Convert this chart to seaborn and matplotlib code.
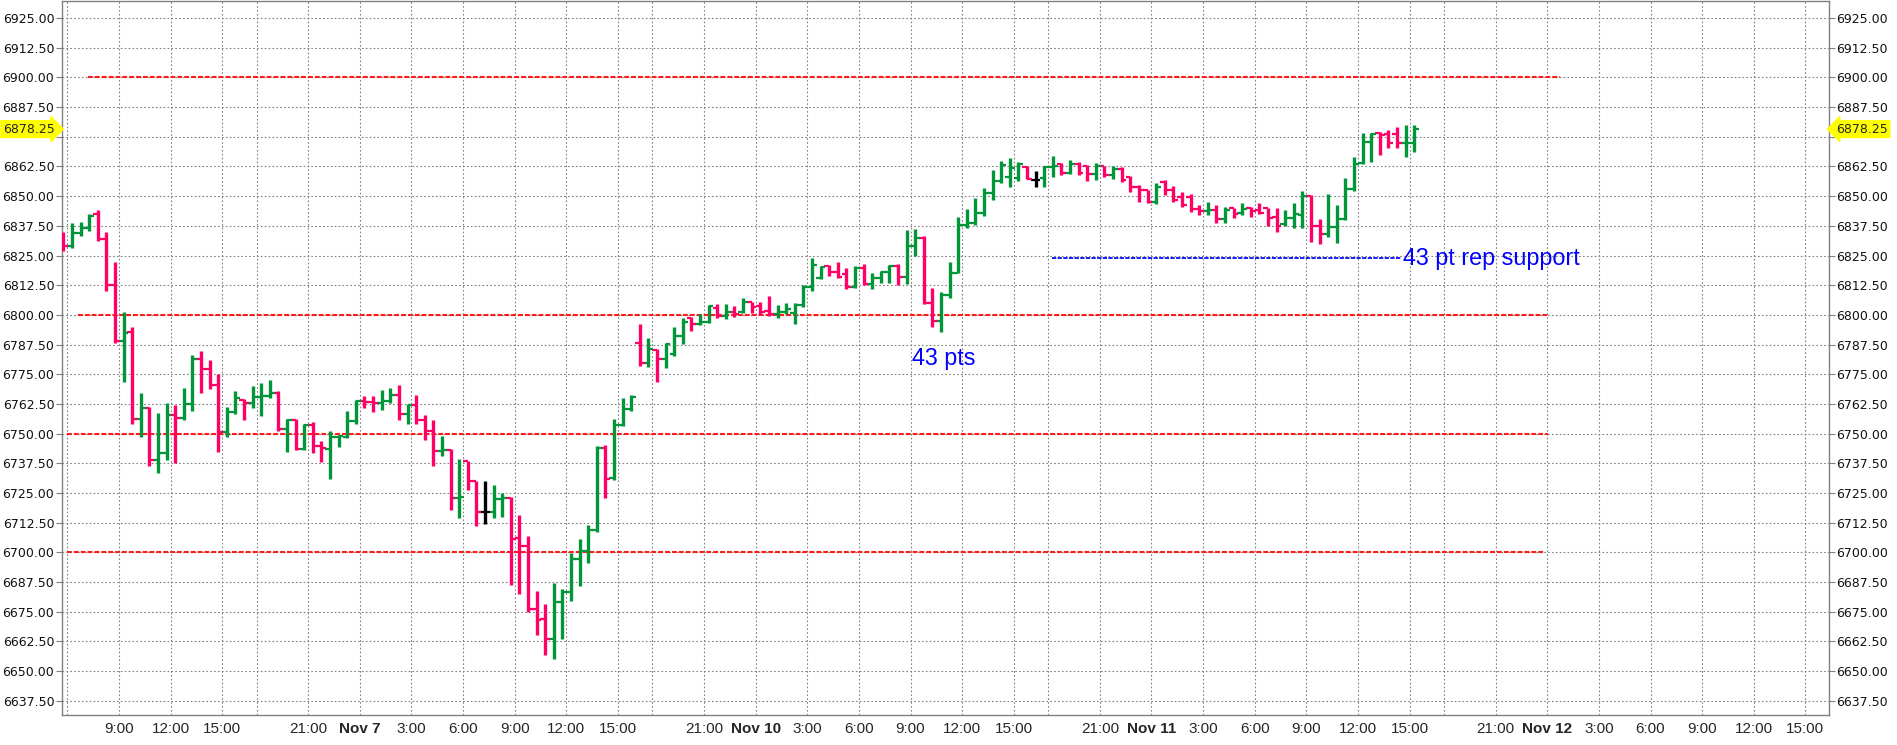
import numpy as np
import pandas as pd
import matplotlib
matplotlib.use("Agg")
import matplotlib.pyplot as plt
import seaborn as sns

# 30-minute ES bars (index = bar number)
opens = [6834, 6829, 6834.3, 6836.6, 6842.3, 6832, 6812.5, 6789, 6792.8, 6756,
         6761, 6739, 6742, 6758, 6756.6, 6762.4, 6781.3, 6777.4, 6770.4, 6750.7,
         6759.1, 6764, 6763, 6765.6, 6766, 6767, 6751.8, 6755.6, 6743.4, 6753.7,
         6744.7, 6743.7, 6748.7, 6748.7, 6755.2, 6763.6, 6763.3, 6763, 6763.9, 6766.4,
         6758.3, 6761.9, 6755.6, 6751.3, 6742.6, 6743.1, 6722.9, 6738.3, 6729.9, 6717,
         6717, 6722.5, 6722.9, 6706, 6702.8, 6676.2, 6671.8, 6663.4, 6679.3, 6683.3,
         6697.1, 6700.6, 6709.4, 6744.1, 6731.2, 6753.7, 6760.3, 6788.1, 6779.9, 6785.3,
         6781.3, 6783.4, 6791.2, 6798.5, 6796.3, 6797, 6803.1, 6799.6, 6801.4, 6801.4,
         6805.5, 6803.8, 6801.7, 6800.3, 6801.3, 6801, 6804.2, 6811.9, 6815.4, 6820.4,
         6818, 6817.1, 6811.9, 6819.7, 6813.1, 6815.4, 6818, 6820.4, 6815.9, 6829.1,
         6832.3, 6805.2, 6797.5, 6808.4, 6817.8, 6837.9, 6838.9, 6842.8, 6851.5, 6856.6,
         6858, 6857.5, 6862.2, 6857, 6857.6, 6862.2, 6863.6, 6859.8, 6863.6, 6862.5,
         6859.4, 6862.5, 6858.8, 6861.5, 6858, 6853.8, 6852.4, 6847.5, 6856, 6852.4,
         6849.7, 6849.6, 6844.6, 6843.7, 6844, 6840.3, 6845, 6843.1, 6845, 6844.1,
         6845, 6841.3, 6838.2, 6840.7, 6842.1, 6850.1, 6837.5, 6834, 6837, 6840.6,
         6852.9, 6864, 6872.9, 6876.4, 6876, 6876, 6872.2, 6872.6]
highs = [6835, 6838.5, 6839, 6842.4, 6844.1, 6834.8, 6822.2, 6801.4, 6794.8, 6767.3,
         6761.4, 6758.6, 6763, 6762, 6769.4, 6783, 6785, 6781.2, 6775, 6761.4,
         6768, 6764.5, 6770, 6771.2, 6772.5, 6768, 6756.3, 6756.3, 6754.2, 6755,
         6746.8, 6751.3, 6749.6, 6759.4, 6764.3, 6765.7, 6765.7, 6768.5, 6769.2, 6770.4,
         6762.6, 6766.1, 6758, 6755.6, 6748.9, 6743.7, 6739.5, 6738.6, 6730.2, 6730.2,
         6728.5, 6725.1, 6723.2, 6715.9, 6706.8, 6683.6, 6678.1, 6687, 6684.7, 6699.9,
         6705.5, 6711.4, 6744.8, 6745.1, 6756.1, 6764.9, 6766.2, 6796.1, 6790.2, 6785.8,
         6788.1, 6794.7, 6798.5, 6799.2, 6800.3, 6804.1, 6804.5, 6804.5, 6803.7, 6807,
         6805.6, 6805.6, 6808, 6804.1, 6804.9, 6804.9, 6812.4, 6823.9, 6820.6, 6821,
         6822.2, 6819.9, 6820.4, 6821.5, 6817.5, 6818.5, 6821, 6821.3, 6835.8, 6836.2,
         6833.3, 6811.5, 6809.7, 6822.2, 6841.1, 6844.5, 6849.1, 6853.6, 6861.1, 6865,
         6866, 6864.2, 6862.9, 6860.8, 6862.9, 6867.1, 6864, 6865.4, 6864.6, 6863.2,
         6864, 6862.6, 6862.9, 6862.2, 6858.7, 6854.5, 6852.8, 6855.5, 6856.9, 6854.1,
         6851.7, 6851, 6846.1, 6847.5, 6846.1, 6845.4, 6845.2, 6847, 6845.5, 6847,
         6845.2, 6845.2, 6844.1, 6847.3, 6852.3, 6850.4, 6840.3, 6850.9, 6846.2, 6857.6,
         6866.3, 6876.5, 6876.5, 6877.1, 6878, 6879.2, 6880, 6880]
lows = [6827, 6828, 6833.3, 6835.4, 6831.2, 6810, 6788, 6771.8, 6754, 6748.6,
        6736.4, 6733.3, 6739, 6737.8, 6755.8, 6759.6, 6767.3, 6769, 6742.3, 6748.6,
        6758.2, 6755.8, 6760.7, 6757.5, 6764.9, 6750.9, 6742.3, 6743, 6743, 6742,
        6738, 6730.9, 6744.2, 6748.2, 6754.1, 6760.8, 6759, 6759.8, 6762.9, 6755.6,
        6754.1, 6754.1, 6747.2, 6736.2, 6740.6, 6717.8, 6714.5, 6726.4, 6711.1, 6712,
        6714.5, 6714.9, 6686.4, 6682.5, 6674.9, 6665.3, 6656.8, 6655, 6663.4, 6679.5,
        6685.9, 6695.7, 6708.7, 6722.8, 6730.5, 6753.2, 6759.6, 6778.5, 6778.1, 6771.8,
        6777.7, 6782.7, 6787.6, 6793.3, 6795.8, 6796.5, 6798.6, 6798.2, 6799.2, 6801,
        6800.6, 6800, 6799.6, 6798.5, 6800.3, 6796.1, 6803.5, 6810.2, 6815, 6816.4,
        6815.4, 6810.8, 6811.2, 6812.4, 6810.8, 6813.6, 6813.6, 6812.4, 6813.1, 6824.6,
        6804.4, 6794.7, 6792.6, 6807, 6817.5, 6836.5, 6837.9, 6841.8, 6848.4, 6855.5,
        6853.8, 6856.5, 6857.2, 6853.8, 6853.8, 6858, 6859, 6859.4, 6859, 6856.6,
        6856.9, 6858, 6857.3, 6855.9, 6851.7, 6847.5, 6847.1, 6846.8, 6850.3, 6847.5,
        6845.4, 6843.3, 6841.9, 6841.9, 6838.6, 6838.5, 6840.7, 6842, 6841.3, 6842.4,
        6837.5, 6835.1, 6837.5, 6836.8, 6836.8, 6830.9, 6829.8, 6833, 6830.2, 6839.9,
        6852.3, 6863.5, 6864.6, 6867.4, 6870.2, 6870.5, 6866.3, 6868.8]
closes = [6829, 6834.3, 6836.6, 6841.7, 6832, 6812.5, 6789, 6792.4, 6756.3, 6761,
          6739, 6742, 6758, 6756.6, 6762.4, 6781.3, 6777.4, 6770.4, 6750.7, 6759.1,
          6764.8, 6763, 6765.6, 6766, 6767, 6751.8, 6755.6, 6743.4, 6753.7, 6744.7,
          6744, 6748.7, 6749, 6755.2, 6763.6, 6763.3, 6762.9, 6763.9, 6766.4, 6758.3,
          6761.9, 6755.6, 6751.3, 6742.6, 6743.1, 6722.9, 6723.2, 6729.9, 6717, 6717,
          6722.5, 6722.9, 6705.6, 6702.5, 6676.2, 6671.7, 6663.4, 6679.3, 6683.4, 6697.1,
          6700.6, 6709.4, 6744.1, 6730.8, 6753.7, 6760.3, 6765.5, 6779.9, 6785.5, 6781.3,
          6787.6, 6791.2, 6797.2, 6796.3, 6797, 6803.7, 6799.6, 6801.3, 6800.3, 6805.5,
          6803.5, 6801.3, 6800.3, 6801.3, 6802.4, 6804.2, 6811.9, 6821.1, 6820.1, 6818,
          6816, 6811.7, 6819.7, 6813.1, 6815.4, 6818, 6820.4, 6815.9, 6829.1, 6832.3,
          6805.2, 6797.5, 6808.4, 6817.8, 6837.9, 6838.9, 6842.8, 6851.5, 6856.6, 6863,
          6862, 6863.5, 6857.3, 6857, 6862.2, 6862.5, 6859.8, 6863.6, 6859.8, 6859.4,
          6862.5, 6858.8, 6861.5, 6856.9, 6853.8, 6852.4, 6847.5, 6853.8, 6852.4, 6848.2,
          6846.1, 6844.6, 6843.7, 6844, 6840.5, 6844.3, 6842.4, 6844.8, 6843.8, 6843.1,
          6841, 6837.5, 6841, 6842.4, 6850.1, 6837.5, 6834, 6837, 6840.6, 6852.9,
          6863.6, 6872.9, 6876.1, 6875.7, 6872.5, 6872.2, 6872.6, 6878.25]

# time axis (30-min slots of trading time, counted from Nov 6 6:00)
tick_slots = [0, 6, 12, 18, 22, 28, 34, 40, 46, 52, 58, 64, 68, 74, 80, 86, 92, 98,
              104, 110, 114, 120, 126, 132, 138, 144, 150, 156, 160, 166, 172, 178,
              184, 190, 196, 202]
tick_labels = ["", "9:00", "12:00", "15:00", "", "21:00", "Nov 7", "3:00", "6:00",
               "9:00", "12:00", "15:00", "", "21:00", "Nov 10", "3:00", "6:00", "9:00",
               "12:00", "15:00", "", "21:00", "Nov 11", "3:00", "6:00", "9:00", "12:00",
               "15:00", "", "21:00", "Nov 12", "3:00", "6:00", "9:00", "12:00", "15:00"]

# horizontal levels
red_levels = [6900, 6800, 6750, 6700]
red_start = [2.9, 1.7, 0.4, 0.4]
red_end = [173.9, 172.5, 172.6, 172.2]
support_level = 6824
support_start, support_end = 114.9, 155.5
last_price = 6878.25

df = pd.DataFrame({"open": opens, "high": highs, "low": lows, "close": closes})
df["bar"] = np.arange(len(df))
df["color"] = np.where(df["close"] > df["open"], "#009639",
                       np.where(df["close"] < df["open"], "#ff0066", "black"))

sns.set_theme(style="white")
plt.rcParams["font.family"] = ["DejaVu Sans"]

fig = plt.figure(figsize=(18.97, 7.45), dpi=100)
ax = fig.add_axes([61.7 / 1897, 30 / 745, (1829 - 61.7) / 1897, 714 / 745])

# grid
yticks = np.arange(6637.5, 6925.01, 12.5)
ax.set_yticks(yticks)
ax.set_yticklabels(["" if v == 6875 else f"{v:.2f}" for v in yticks])
ax.set_xticks([s + 0.46 for s in tick_slots])
ax.set_xticklabels(tick_labels)
ax.grid(True, color="#808080", linestyle=(0, (1.5, 2.0)), linewidth=0.8)
ax.set_axisbelow(True)

# levels
for lvl, x0, x1 in zip(red_levels, red_start, red_end):
    ax.plot([x0, x1], [lvl, lvl], color="#ff1a1a", lw=1.5, dashes=(2.3, 1.0), zorder=2)
ax.plot([support_start, support_end], [support_level, support_level],
        color="#1a1aff", lw=1.4, dashes=(2.2, 0.7), zorder=2)

# OHLC bars
ax.vlines(df["bar"], df["low"], df["high"], colors=df["color"], lw=2.4, zorder=3)
ax.hlines(df["open"], df["bar"] - 0.55, df["bar"], colors=df["color"], lw=1.6, zorder=3)
ax.hlines(df["close"], df["bar"], df["bar"] + 0.55, colors=df["color"], lw=1.6, zorder=3)

ax.text(98.6, 6781.8, "43 pts", color="#0000ff", fontsize=16.8,
        family=["Liberation Sans", "DejaVu Sans"], ha="left", va="center")
ax.text(155.7, 6823.9, "43 pt rep support", color="#0000ff", fontsize=16.8,
        family=["Liberation Sans", "DejaVu Sans"], ha="left", va="center")

ax.set_xlim(-0.19, 205.2)
ax.set_ylim(6631.5, 6932.2)
ax.set_xlabel("")
ax.set_ylabel("")

for sp in ax.spines.values():
    sp.set_color("#808080")
    sp.set_linewidth(1.0)

ax.tick_params(axis="y", which="major", left=True, right=True, labelleft=True,
               labelright=True, length=4.5, width=0.8, color="#808080", pad=0.8,
               labelsize=9, labelcolor="#111111")
ax.tick_params(axis="x", length=0, pad=5, labelsize=11)
for lab in ax.get_xticklabels():
    lab.set_family(["Liberation Sans Narrow", "Liberation Sans", "DejaVu Sans"])
    if lab.get_text().startswith("Nov"):
        lab.set_fontweight("bold")

# last price flags
ax.annotate(f"{last_price:.2f}", xy=(0, last_price), xycoords=("axes fraction", "data"),
            xytext=(-5.2, 0), textcoords="offset points", ha="right", va="center",
            fontsize=9, bbox=dict(boxstyle="rarrow,pad=0.15", fc="#ffff00", ec="#ffff00"),
            annotation_clip=False)
ax.annotate(f"{last_price:.2f}", xy=(1, last_price), xycoords=("axes fraction", "data"),
            xytext=(5.2, 0), textcoords="offset points", ha="left", va="center",
            fontsize=9, bbox=dict(boxstyle="larrow,pad=0.15", fc="#ffff00", ec="#ffff00"),
            annotation_clip=False)

fig.savefig("out.png", dpi=100)
